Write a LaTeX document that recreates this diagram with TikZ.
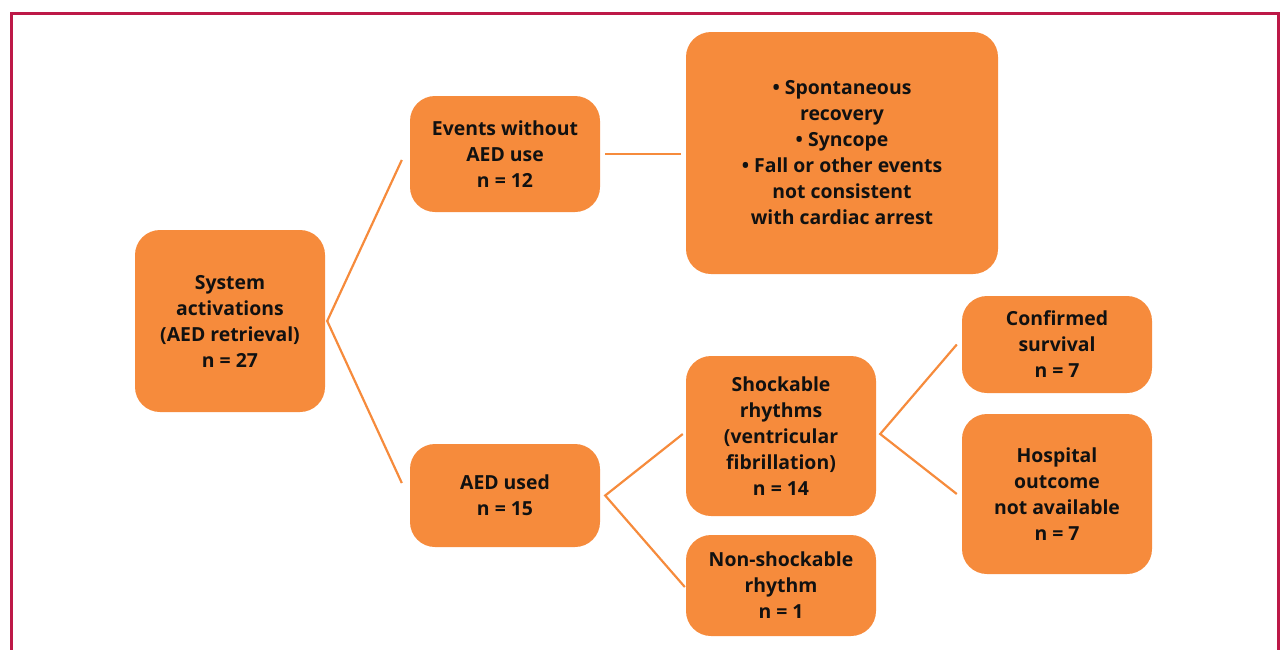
\documentclass[tikz,border=0pt]{standalone}
\usepackage{fontspec}
\setmainfont{Open Sans}[BoldFont={* Bold}]
\definecolor{boxorange}{HTML}{F68B3C}
\definecolor{framered}{HTML}{BD1847}
\definecolor{txt}{HTML}{111111}
\begin{document}
\begin{tikzpicture}[x=1pt,y=-1pt,
  box/.style={rectangle, rounded corners=25pt, fill=boxorange, draw=none,
    align=center, text=txt, inner sep=0pt,
    font=\fontsize{19.4}{26}\selectfont\bfseries},
  conn/.style={draw=boxorange, line width=2.2pt}]
\useasboundingbox (0,0) rectangle (1281,649);
\draw[framered, line width=2.6pt] (11.3,700) -- (11.3,13.5) -- (1278.6,13.5) -- (1278.6,700);

\node[box, minimum width=190pt, minimum height=182pt] (sys) at (230,321) {System\\activations\\(AED retrieval)\\n = 27};
\node[box, minimum width=190pt, minimum height=116pt] (ev) at (505,154) {Events without\\AED use\\n = 12};
\node[box, minimum width=312pt, minimum height=242pt] (big) at (842,153) {\textbullet\ Spontaneous\\recovery\\\textbullet\ Syncope\\\textbullet\ Fall or other events\\not consistent\\with cardiac arrest};
\node[box, minimum width=190pt, minimum height=103pt] (aed) at (505,495.5) {AED used\\n = 15};
\node[box, minimum width=190pt, minimum height=160pt] (shock) at (781,436) {Shockable\\rhythms\\(ventricular\\fibrillation)\\n = 14};
\node[box, minimum width=190pt, minimum height=101pt] (non) at (781,585.5) {Non-shockable\\rhythm\\n = 1};
\node[box, minimum width=190pt, minimum height=97pt] (conf) at (1057,344.5) {Confirmed\\survival\\n = 7};
\node[box, minimum width=190pt, minimum height=160pt] (hosp) at (1057,494) {Hospital\\outcome\\not available\\n = 7};

\coordinate (j1) at ([xshift=2pt]sys.east);
\draw[conn] ([shift={(-8,6)}]ev.west) -- (j1) -- ([shift={(-8,-12.5)}]aed.west);
\draw[conn] ([xshift=5pt]ev.east) -- ([xshift=-5pt]ev.east -| big.west);
\coordinate (j2) at ([xshift=5pt]aed.east);
\draw[conn] ([shift={(-3,-2)}]shock.west) -- (j2) -- ([shift={(-1,1.5)}]non.west);
\coordinate (j3) at ([shift={(4,-2)}]shock.east);
\draw[conn] ([xshift=-5pt]conf.west) -- (j3) -- ([xshift=-5pt]hosp.west);
\end{tikzpicture}
\end{document}
